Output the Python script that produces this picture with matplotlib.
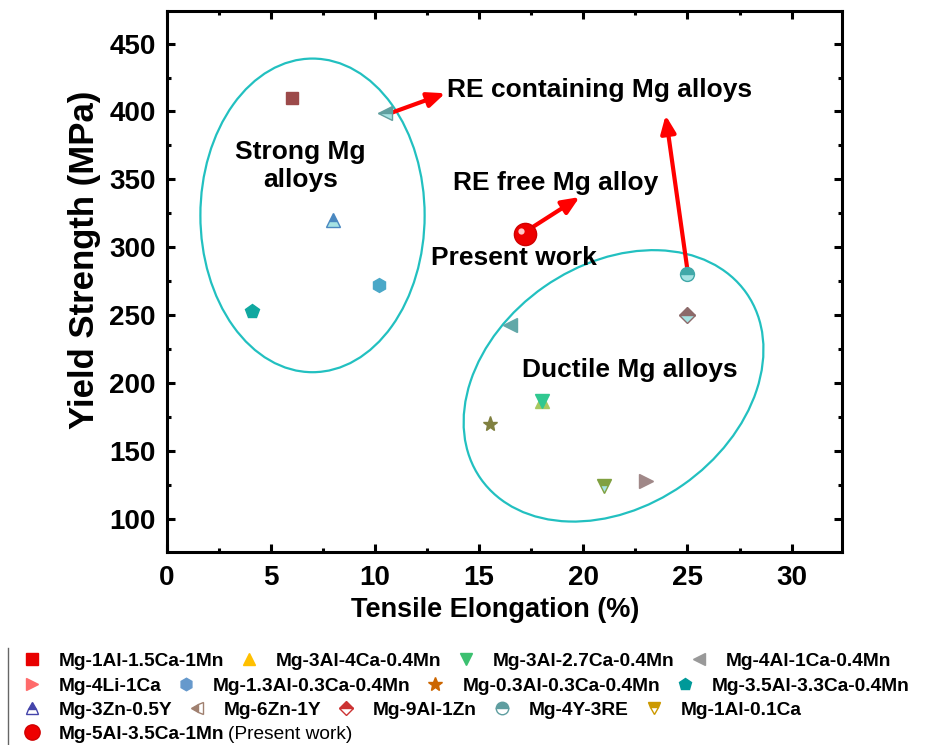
import matplotlib
matplotlib.use('Agg')
import matplotlib.pyplot as plt
from matplotlib.lines import Line2D
from matplotlib.patches import Ellipse
from matplotlib.transforms import Affine2D, ScaledTranslation
from matplotlib.ticker import MultipleLocator

plt.rcParams['font.family'] = ['Liberation Sans', 'DejaVu Sans']
plt.rcParams['font.weight'] = 'bold'

# ---------------- data ----------------
alloys = ['Mg-1Al-1.5Ca-1Mn', 'Mg-3Al-4Ca-0.4Mn', 'Mg-3Al-2.7Ca-0.4Mn', 'Mg-4Al-1Ca-0.4Mn',
          'Mg-4Li-1Ca', 'Mg-1.3Al-0.3Ca-0.4Mn', 'Mg-0.3Al-0.3Ca-0.4Mn', 'Mg-3.5Al-3.3Ca-0.4Mn',
          'Mg-3Zn-0.5Y', 'Mg-6Zn-1Y', 'Mg-9Al-1Zn', 'Mg-4Y-3RE', 'Mg-1Al-0.1Ca']
elongation = [6, 18, 18, 16.5, 23, 10.2, 15.5, 4.1, 8, 10.5, 25, 25, 21]
yield_strength = [410, 187, 187, 243, 128, 272, 170, 253, 320, 399, 250, 280, 124]

present_label = 'Mg-5Al-3.5Ca-1Mn'
present_elong = [17.2]
present_ys = [310]

# ---------------- styles ----------------
markers = ['s', '^', 'v', '<', '>', 'h', '*', 'p', '^', '<', 'D', 'o', 'v']
plot_ms = [9, 10, 10, 10, 10, 10, 11, 10, 10, 10, 8, 10, 10]
plot_colors = ['#9c4a4a', '#a8c860', '#30c890', '#62a8a8', '#a08888', '#4aa8c8', '#808040',
               '#10a8a0', '#4a88c0', '#5f9f9f', '#8c6a6a', '#40a8a8', '#80a040']
plot_fill = ['full'] * 8 + ['top', 'top', 'top', 'top', 'top']
leg_colors = ['#e80000', '#ffc000', '#3cc070', '#999999', '#ff6b6b', '#6699cc', '#cc6600',
              '#009999', '#4444aa', '#a08070', '#cc3333', '#5f9ea0', '#cc9900']
leg_fill = ['full'] * 8 + ['top', 'left', 'top', 'top', 'top']
leg_ms = [8, 9, 9, 9, 9, 9, 10, 9, 9, 9, 7.5, 9, 9]
alt_plot = '#a6e3e3'

fig = plt.figure(figsize=(9.25, 7.45), dpi=100)
ax = fig.add_axes([0.1802, 0.2587, 0.7297, 0.7266])

# reference pixel scale (px per data unit) used for ellipse geometry
SX, SY = 20.81, 1.36

# ellipses
strong = Ellipse((0, 0), 2 * 112, 2 * 157, angle=0, fill=False, ec='#22c0c0', lw=1.6,
                 transform=Affine2D().scale(1 / SX, 1 / SY).translate(7.0, 323.5) + ax.transData)
ductile = Ellipse((0, 0), 2 * 162, 2 * 121, angle=35, fill=False, ec='#22c0c0', lw=1.6,
                  transform=Affine2D().scale(1 / SX, 1 / SY).translate(21.45, 198) + ax.transData)
ax.add_patch(strong)
ax.add_patch(ductile)

# arrows
arrow_kw = dict(arrowstyle='-|>,head_length=0.7,head_width=0.3', color='#ff0000', lw=3,
                mutation_scale=15, shrinkA=0, shrinkB=0)
ax.annotate('', xy=(13.37, 413.4), xytext=(10.73, 398.7), arrowprops=arrow_kw, zorder=3)
ax.annotate('', xy=(23.95, 397.2), xytext=(25.0, 283), arrowprops=arrow_kw, zorder=3)
ax.annotate('', xy=(19.82, 337), xytext=(17.13, 310.6), arrowprops=arrow_kw, zorder=3)

# data points
for i in range(len(alloys)):
    ax.plot(elongation[i], yield_strength[i], ls='none', marker=markers[i], ms=plot_ms[i],
            mfc=plot_colors[i], mec=plot_colors[i], mew=1, fillstyle=plot_fill[i],
            markerfacecoloralt=alt_plot, zorder=4)

ax.plot(present_elong, present_ys, ls='none', marker='o', ms=16, mfc='#ee0000', mec='#d00000',
        zorder=5)
ax.plot(present_elong, present_ys, ls='none', marker='o', ms=4.5, mfc='#ffc8c8', mec='none',
        zorder=6, transform=ax.transData + ScaledTranslation(-3 / 72, 2 / 72, fig.dpi_scale_trans))

# annotations
tk = dict(fontsize=19, fontweight='bold', color='black', zorder=7)
ax.text(6.41, 359.8, 'Strong Mg\nalloys', ha='center', va='center', linespacing=1.25, **tk)
ax.text(13.47, 415.7, 'RE containing Mg alloys', ha='left', va='center', **tk)
ax.text(13.76, 347.3, 'RE free Mg alloy', ha='left', va='center', **tk)
ax.text(12.7, 292, 'Present work', ha='left', va='center', **tk)
ax.text(17.07, 209.8, 'Ductile Mg alloys', ha='left', va='center', **tk)

# axes
ax.set_xlim(0, 32.4)
ax.set_ylim(75.5, 474)
ax.xaxis.set_major_locator(MultipleLocator(5))
ax.xaxis.set_minor_locator(MultipleLocator(2.5))
ax.yaxis.set_major_locator(MultipleLocator(50))
ax.yaxis.set_minor_locator(MultipleLocator(25))
for s in ax.spines.values():
    s.set_linewidth(2.2)
ax.tick_params(which='both', direction='in', top=True, right=True, width=2.2)
ax.tick_params(which='major', length=6)
ax.tick_params(which='minor', length=3)
ax.tick_params(axis='x', which='major', labelsize=20, pad=9)
ax.tick_params(axis='y', which='major', labelsize=20, pad=8)
for lab in ax.get_xticklabels() + ax.get_yticklabels():
    lab.set_fontweight('bold')

ax.set_xlabel('Tensile Elongation (%)', fontsize=19.5, fontweight='bold')
ax.set_ylabel('Yield Strength (MPa)', fontsize=25, fontweight='bold')
ax.xaxis.set_label_coords(0.486, -0.082)
ax.yaxis.set_label_coords(-0.097, 0.54)

# legend (flowing rows)
handles = []
for i in range(len(alloys)):
    handles.append(Line2D([], [], ls='none', marker=markers[i], ms=leg_ms[i], mfc=leg_colors[i],
                          mec=leg_colors[i], mew=1, fillstyle=leg_fill[i],
                          markerfacecoloralt='white'))
present_handle = Line2D([], [], ls='none', marker='o', ms=11, mfc='#ee0000', mec='#d00000')
all_handles = handles + [present_handle]
all_labels = alloys + [present_label]

rows = [(0, 4), (4, 8), (8, 13), (13, 14)]
row_y = [661, 686, 710, 734]
prop = dict(family=['Liberation Sans', 'DejaVu Sans'], weight='bold', size=13.8)
legs = []
for (a, b), yy in zip(rows, row_y):
    leg = fig.legend(all_handles[a:b], all_labels[a:b], loc='center left',
                     bbox_to_anchor=(22 / 925, 1 - yy / 745), bbox_transform=fig.transFigure,
                     ncol=b - a, frameon=False, prop=prop, handlelength=1.0,
                     handletextpad=0.9, columnspacing=0.8, borderpad=0, borderaxespad=0)
    legs.append(leg)

fig.canvas.draw()
last_text = legs[-1].get_texts()[0]
bb = last_text.get_window_extent()
x_end = bb.x1 / fig.bbox.width
y_mid = (bb.y0 + bb.y1) / 2 / fig.bbox.height
fig.text(x_end + 0.004, y_mid, '(Present work)', ha='left', va='center', fontsize=13.8,
         fontweight='normal')

fig.add_artist(Line2D([8 / 925, 8 / 925], [0, 97 / 745], transform=fig.transFigure,
                      color='#666666', lw=1))

fig.savefig('out.png', dpi=100)
